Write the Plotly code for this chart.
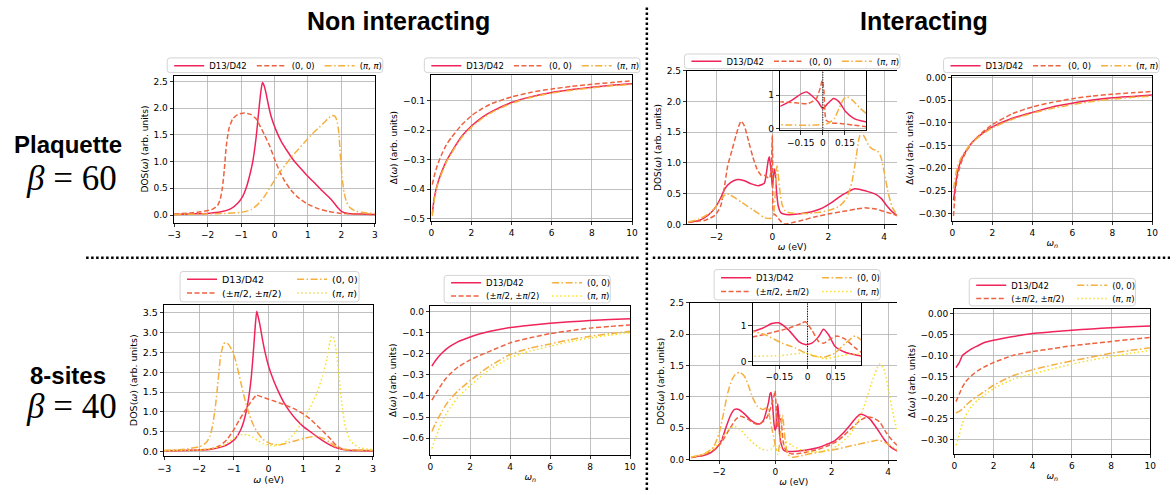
import plotly.graph_objects as go

W, H = 1176, 495
FONT = "DejaVu Sans"

# ---------------- data ----------------
# Panel 1: plaquette, non interacting, DOS
p1_d13_w = [-3.0, -2.5, -2.0, -1.6, -1.3, -1.1, -0.95, -0.85, -0.75, -0.65, -0.55, -0.47, -0.41, -0.36, -0.31, -0.26, -0.18, -0.08, 0.05, 0.2, 0.4, 0.6, 0.8, 1.0, 1.2, 1.4, 1.6, 1.75, 1.9, 2.0, 2.2, 2.5, 3.0]
p1_d13 = [0.01, 0.02, 0.03, 0.06, 0.12, 0.22, 0.35, 0.5, 0.72, 1.0, 1.45, 1.95, 2.3, 2.48, 2.42, 2.3, 2.05, 1.8, 1.58, 1.38, 1.18, 1.0, 0.86, 0.72, 0.6, 0.47, 0.35, 0.25, 0.13, 0.07, 0.03, 0.02, 0.01]
p1_00_w = [-3.0, -2.5, -2.1, -1.85, -1.7, -1.62, -1.56, -1.5, -1.44, -1.36, -1.25, -1.1, -0.9, -0.7, -0.55, -0.42, -0.3, -0.15, 0.0, 0.15, 0.3, 0.5, 0.7, 1.0, 1.3, 1.6, 2.0, 2.5, 3.0]
p1_00 = [0.02, 0.04, 0.07, 0.11, 0.18, 0.3, 0.5, 0.85, 1.3, 1.62, 1.8, 1.88, 1.91, 1.88, 1.8, 1.65, 1.5, 1.3, 1.05, 0.82, 0.64, 0.46, 0.33, 0.2, 0.12, 0.07, 0.03, 0.02, 0.01]
p1_pp_w = [-3.0, -2.0, -1.5, -1.0, -0.7, -0.5, -0.3, -0.1, 0.1, 0.3, 0.5, 0.7, 0.9, 1.1, 1.3, 1.5, 1.62, 1.72, 1.8, 1.86, 1.92, 1.97, 2.02, 2.08, 2.15, 2.25, 2.4, 2.6, 3.0]
p1_pp = [0.01, 0.02, 0.03, 0.05, 0.1, 0.2, 0.35, 0.55, 0.75, 0.92, 1.08, 1.22, 1.36, 1.5, 1.62, 1.74, 1.82, 1.86, 1.85, 1.78, 1.55, 1.1, 0.7, 0.42, 0.25, 0.14, 0.08, 0.05, 0.03]

# Panel 2: plaquette, non interacting, hybridisation
p2_wn = [0.05, 0.15, 0.3, 0.5, 0.75, 1.0, 1.5, 2.0, 2.5, 3.0, 4.0, 5.0, 6.0, 7.0, 8.0, 9.0, 10.0]
p2_d13 = [-0.485, -0.43, -0.385, -0.345, -0.305, -0.275, -0.222, -0.186, -0.158, -0.137, -0.106, -0.086, -0.072, -0.062, -0.054, -0.047, -0.042]
p2_00 = [-0.385, -0.355, -0.32, -0.285, -0.25, -0.225, -0.183, -0.151, -0.128, -0.11, -0.087, -0.071, -0.06, -0.051, -0.044, -0.038, -0.032]
p2_pp = [-0.492, -0.437, -0.39, -0.35, -0.309, -0.279, -0.226, -0.19, -0.162, -0.14, -0.109, -0.088, -0.074, -0.064, -0.056, -0.049, -0.044]

# Panel 3: plaquette, interacting, DOS (also shown in the inset)
p3_d13_w = [-3.0, -2.6, -2.3, -2.05, -1.85, -1.7, -1.5, -1.25, -1.0, -0.75, -0.5, -0.29, -0.21, -0.145, -0.11, -0.078, -0.033, 0.0, 0.033, 0.073, 0.11, 0.156, 0.21, 0.29, 0.4, 0.6, 0.9, 1.2, 1.5, 1.8, 2.1, 2.4, 2.7, 2.95, 3.2, 3.45, 3.7, 3.9, 4.1, 4.3, 4.5]
p3_d13 = [0.03, 0.07, 0.15, 0.27, 0.43, 0.58, 0.68, 0.73, 0.71, 0.66, 0.63, 0.67, 0.85, 1.05, 1.1, 1.0, 0.8, 0.6, 0.75, 0.9, 0.8, 0.5, 0.3, 0.2, 0.17, 0.16, 0.17, 0.19, 0.22, 0.27, 0.35, 0.45, 0.53, 0.58, 0.56, 0.53, 0.49, 0.42, 0.3, 0.2, 0.13]
p3_00_w = [-3.0, -2.4, -2.05, -1.85, -1.72, -1.6, -1.45, -1.3, -1.2, -1.12, -1.0, -0.85, -0.7, -0.55, -0.4, -0.29, -0.19, -0.1, -0.044, -0.016, -0.004, 0.007, 0.022, 0.056, 0.12, 0.21, 0.3, 0.4, 0.55, 0.8, 1.0, 1.5, 2.0, 2.5, 3.0, 3.3, 3.7, 4.0, 4.3, 4.5]
p3_00 = [0.04, 0.07, 0.15, 0.3, 0.6, 0.95, 1.2, 1.45, 1.6, 1.68, 1.6, 1.35, 1.1, 0.9, 0.8, 0.8, 0.77, 0.75, 0.9, 1.25, 1.45, 1.15, 0.25, 0.17, 0.15, 0.1, 0.05, 0.01, 0.01, 0.04, 0.06, 0.12, 0.17, 0.21, 0.25, 0.27, 0.25, 0.21, 0.17, 0.14]
p3_pp_w = [-3.0, -2.6, -2.2, -1.9, -1.75, -1.62, -1.5, -1.3, -1.1, -0.9, -0.7, -0.5, -0.29, -0.056, 0.033, 0.078, 0.11, 0.144, 0.167, 0.2, 0.256, 0.296, 0.35, 0.44, 0.6, 0.9, 1.3, 1.7, 2.1, 2.4, 2.65, 2.85, 3.0, 3.1, 3.18, 3.3, 3.45, 3.6, 3.75, 3.88, 4.0, 4.15, 4.3, 4.5]
p3_pp = [0.04, 0.09, 0.2, 0.36, 0.46, 0.5, 0.48, 0.42, 0.36, 0.3, 0.24, 0.18, 0.11, 0.1, 0.15, 0.3, 0.6, 0.9, 0.95, 0.85, 0.6, 0.45, 0.32, 0.23, 0.19, 0.18, 0.18, 0.2, 0.24, 0.3, 0.42, 0.7, 1.1, 1.4, 1.5, 1.42, 1.28, 1.22, 1.2, 1.1, 0.85, 0.5, 0.27, 0.13]

# Panel 4: plaquette, interacting, hybridisation
p4_wn = [0.05, 0.1, 0.16, 0.25, 0.35, 0.5, 0.75, 1.0, 1.5, 2.0, 3.0, 4.0, 5.0, 6.0, 7.0, 8.0, 9.0, 10.0]
p4_d13 = [-0.27, -0.255, -0.235, -0.21, -0.193, -0.176, -0.157, -0.142, -0.123, -0.109, -0.09, -0.077, -0.065, -0.057, -0.05, -0.045, -0.042, -0.039]
p4_00 = [-0.305, -0.275, -0.245, -0.218, -0.2, -0.18, -0.159, -0.143, -0.121, -0.104, -0.08, -0.065, -0.055, -0.047, -0.041, -0.037, -0.034, -0.031]
p4_pp = [-0.245, -0.232, -0.215, -0.198, -0.185, -0.172, -0.156, -0.143, -0.125, -0.111, -0.092, -0.079, -0.068, -0.06, -0.053, -0.048, -0.044, -0.041]

# Panel 5: 8-sites, non interacting, DOS
p5_d13_w = [-3.0, -2.0, -1.65, -1.3, -1.1, -0.95, -0.8, -0.7, -0.6, -0.5, -0.43, -0.38, -0.34, -0.3, -0.25, -0.18, -0.1, 0.0, 0.15, 0.3, 0.45, 0.6, 0.8, 1.0, 1.2, 1.4, 1.6, 1.8, 2.0, 2.3, 3.0]
p5_d13 = [0.02, 0.04, 0.06, 0.13, 0.22, 0.33, 0.55, 0.8, 1.2, 1.85, 2.6, 3.2, 3.54, 3.4, 3.2, 2.85, 2.5, 2.15, 1.78, 1.48, 1.22, 1.02, 0.8, 0.63, 0.5, 0.37, 0.25, 0.15, 0.08, 0.03, 0.02]
p5_pm_w = [-3.0, -2.0, -1.65, -1.4, -1.2, -1.0, -0.85, -0.7, -0.55, -0.45, -0.35, -0.2, 0.0, 0.2, 0.4, 0.6, 0.8, 1.0, 1.2, 1.4, 1.6, 1.8, 1.95, 2.1, 2.3, 2.6, 3.0]
p5_pm = [0.02, 0.04, 0.07, 0.15, 0.3, 0.55, 0.78, 1.0, 1.2, 1.32, 1.42, 1.38, 1.32, 1.26, 1.2, 1.13, 1.05, 0.95, 0.82, 0.65, 0.48, 0.3, 0.15, 0.07, 0.04, 0.03, 0.02]
p5_00_w = [-3.0, -2.4, -2.0, -1.8, -1.68, -1.6, -1.52, -1.45, -1.38, -1.3, -1.25, -1.15, -1.05, -0.95, -0.8, -0.65, -0.5, -0.35, -0.15, 0.05, 0.3, 0.55, 0.8, 1.05, 1.3, 1.45, 1.6, 1.75, 1.9, 2.1, 2.4, 3.0]
p5_00 = [0.03, 0.06, 0.12, 0.22, 0.4, 0.7, 1.2, 1.8, 2.4, 2.7, 2.75, 2.7, 2.55, 2.3, 1.75, 1.2, 0.8, 0.52, 0.3, 0.2, 0.17, 0.22, 0.28, 0.34, 0.38, 0.37, 0.32, 0.24, 0.14, 0.07, 0.04, 0.03]
p5_pp_w = [-3.0, -2.0, -1.6, -1.3, -1.1, -0.9, -0.75, -0.6, -0.45, -0.3, -0.15, 0.0, 0.2, 0.4, 0.6, 0.8, 1.0, 1.2, 1.4, 1.55, 1.68, 1.76, 1.82, 1.88, 1.95, 2.02, 2.1, 2.2, 2.35, 2.6, 3.0]
p5_pp = [0.02, 0.04, 0.08, 0.16, 0.27, 0.39, 0.43, 0.42, 0.36, 0.27, 0.2, 0.16, 0.15, 0.2, 0.32, 0.52, 0.8, 1.12, 1.5, 1.9, 2.35, 2.75, 2.92, 2.85, 2.5, 1.95, 1.25, 0.65, 0.28, 0.1, 0.05]

# Panel 6: 8-sites, non interacting, hybridisation
p6_wn = [0.08, 0.24, 0.4, 0.6, 0.8, 1.0, 1.4, 2.0, 2.5, 3.0, 4.0, 5.0, 6.0, 7.0, 8.0, 9.0, 10.0]
p6_d13 = [-0.258, -0.235, -0.215, -0.195, -0.178, -0.164, -0.142, -0.12, -0.105, -0.093, -0.075, -0.064, -0.055, -0.048, -0.042, -0.037, -0.033]
p6_pm = [-0.42, -0.395, -0.37, -0.34, -0.315, -0.295, -0.262, -0.229, -0.207, -0.187, -0.148, -0.124, -0.104, -0.09, -0.078, -0.07, -0.063]
p6_00 = [-0.569, -0.535, -0.505, -0.47, -0.44, -0.415, -0.375, -0.327, -0.29, -0.257, -0.203, -0.173, -0.153, -0.133, -0.117, -0.104, -0.093]
p6_pp = [-0.65, -0.605, -0.565, -0.52, -0.485, -0.455, -0.405, -0.351, -0.31, -0.273, -0.218, -0.187, -0.164, -0.142, -0.125, -0.111, -0.1]

# Panel 7: 8-sites, interacting, DOS (also shown in the inset)
p7_d13_w = [-3.0, -2.6, -2.3, -2.1, -1.9, -1.75, -1.6, -1.45, -1.3, -1.1, -0.9, -0.7, -0.55, -0.42, -0.29, -0.24, -0.19, -0.154, -0.1, -0.048, -0.012, 0.023, 0.059, 0.085, 0.112, 0.147, 0.2, 0.293, 0.4, 0.6, 0.9, 1.2, 1.5, 1.8, 2.1, 2.4, 2.65, 2.85, 3.0, 3.15, 3.35, 3.6, 3.85, 4.1, 4.4]
p7_d13 = [0.04, 0.06, 0.11, 0.18, 0.32, 0.52, 0.7, 0.8, 0.8, 0.73, 0.64, 0.58, 0.57, 0.63, 0.83, 0.92, 1.05, 1.07, 0.87, 0.56, 0.47, 0.51, 0.69, 0.89, 0.74, 0.42, 0.26, 0.15, 0.13, 0.13, 0.14, 0.16, 0.19, 0.24, 0.3, 0.42, 0.55, 0.66, 0.72, 0.71, 0.65, 0.5, 0.33, 0.2, 0.12]
p7_pm_w = [-3.0, -2.5, -2.1, -1.88, -1.64, -1.41, -1.25, -1.0, -0.8, -0.6, -0.45, -0.291, -0.19, -0.1, -0.035, -0.012, 0.023, 0.059, 0.085, 0.13, 0.156, 0.2, 0.254, 0.293, 0.4, 0.6, 0.9, 1.2, 1.5, 1.8, 2.1, 2.4, 2.7, 3.0, 3.25, 3.45, 3.7, 3.95, 4.2, 4.4]
p7_pm = [0.03, 0.08, 0.18, 0.3, 0.48, 0.64, 0.69, 0.65, 0.59, 0.56, 0.6, 0.68, 0.8, 0.92, 1.05, 1.1, 0.87, 0.56, 0.51, 0.65, 0.71, 0.62, 0.38, 0.24, 0.12, 0.09, 0.1, 0.13, 0.16, 0.21, 0.27, 0.37, 0.5, 0.62, 0.68, 0.67, 0.6, 0.42, 0.28, 0.2]
p7_00_w = [-3.0, -2.5, -2.2, -2.0, -1.85, -1.7, -1.55, -1.4, -1.25, -1.1, -0.95, -0.8, -0.64, -0.45, -0.291, -0.225, -0.136, -0.066, -0.012, 0.041, 0.094, 0.147, 0.2, 0.254, 0.293, 0.35, 0.45, 0.6, 0.9, 1.3, 1.7, 2.1, 2.5, 2.9, 3.3, 3.65, 3.9, 4.15, 4.4]
p7_00 = [0.04, 0.1, 0.2, 0.42, 0.72, 1.05, 1.27, 1.37, 1.39, 1.33, 1.17, 0.98, 0.85, 0.8, 0.83, 0.74, 0.51, 0.38, 0.24, 0.15, 0.13, 0.24, 0.5, 0.71, 0.56, 0.3, 0.08, 0.04, 0.06, 0.1, 0.13, 0.16, 0.2, 0.24, 0.28, 0.31, 0.27, 0.2, 0.13]
p7_pp_w = [-3.0, -2.5, -2.1, -1.8, -1.6, -1.45, -1.25, -1.0, -0.75, -0.5, -0.291, -0.136, -0.012, 0.059, 0.094, 0.147, 0.218, 0.293, 0.4, 0.6, 1.0, 1.4, 1.8, 2.2, 2.6, 2.9, 3.15, 3.4, 3.6, 3.72, 3.85, 4.0, 4.15, 4.3, 4.4]
p7_pp = [0.04, 0.1, 0.22, 0.4, 0.5, 0.53, 0.48, 0.36, 0.25, 0.17, 0.15, 0.17, 0.24, 0.13, 0.08, 0.13, 0.2, 0.22, 0.28, 0.22, 0.14, 0.12, 0.15, 0.22, 0.38, 0.58, 0.85, 1.2, 1.45, 1.53, 1.45, 1.15, 0.8, 0.5, 0.38]

# Panel 8: 8-sites, interacting, hybridisation
p8_wn = [0.08, 0.24, 0.4, 0.55, 0.7, 0.9, 1.2, 1.5, 2.0, 3.0, 4.0, 5.0, 6.0, 7.0, 8.0, 9.0, 10.0]
p8_d13 = [-0.128, -0.117, -0.1, -0.094, -0.089, -0.083, -0.076, -0.069, -0.063, -0.054, -0.047, -0.043, -0.039, -0.036, -0.033, -0.031, -0.029]
p8_pm = [-0.209, -0.192, -0.175, -0.163, -0.155, -0.146, -0.135, -0.127, -0.116, -0.099, -0.09, -0.083, -0.076, -0.071, -0.066, -0.061, -0.056]
p8_00 = [-0.236, -0.232, -0.227, -0.22, -0.213, -0.205, -0.195, -0.186, -0.17, -0.147, -0.133, -0.122, -0.112, -0.103, -0.094, -0.087, -0.081]
p8_pp = [-0.313, -0.29, -0.262, -0.245, -0.232, -0.219, -0.205, -0.195, -0.178, -0.156, -0.143, -0.131, -0.12, -0.11, -0.102, -0.094, -0.087]

# labels
name_d13 = "D13/D42"
name_00 = "(0, 0)"
name_pp = "(<i>π</i>, <i>π</i>)"
name_pm = "(±<i>π</i>/2, ±<i>π</i>/2)"
col_titles = ["<b>Non interacting</b>", "<b>Interacting</b>"]
row_titles = ["<b>Plaquette</b>", "<b>8-sites</b>"]
row_betas = ["<i>β</i> = 60", "<i>β</i> = 40"]
inset_ticks = [-0.15, 0.0, 0.15]
inset_ticktext = ["−0.15", "0", "0.15"]

# ---------------- styles ----------------
RED, ORG, AMB, YEL = "#f0245a", "#ee6240", "#f5b040", "#f8df2a"
SOLID, DASH, DASHDOT, DOT = "solid", "5px,2.5px", "7px,2.5px,1.5px,2.5px", "1.5px,2.5px"

fig = go.Figure()


def xid(n):
    return "x" if n == 1 else f"x{n}"


def yid(n):
    return "y" if n == 1 else f"y{n}"


def lid(n):
    return "legend" if n == 1 else f"legend{n}"


def add(n, x, y, name, color, dash, leg=None, spline=True):
    fig.add_trace(go.Scatter(
        x=x, y=y, xaxis=xid(n), yaxis=yid(n), mode="lines", name=name,
        line=dict(color=color, width=1.5, dash=dash,
                  shape="spline" if spline else "linear", smoothing=0.55),
        showlegend=leg is not None, legend=lid(leg) if leg else "legend",
        hoverinfo="skip"))


# panel 1
add(1, p1_d13_w, p1_d13, name_d13, RED, SOLID, 1)
add(1, p1_00_w, p1_00, name_00, ORG, DASH, 1)
add(1, p1_pp_w, p1_pp, name_pp, AMB, DASHDOT, 1)
# panel 2
add(2, p2_wn, p2_d13, name_d13, RED, SOLID, 2)
add(2, p2_wn, p2_00, name_00, ORG, DASH, 2)
add(2, p2_wn, p2_pp, name_pp, AMB, DASHDOT, 2)
# panel 3 + inset (axis 9)
add(3, p3_d13_w, p3_d13, name_d13, RED, SOLID, 3)
add(3, p3_00_w, p3_00, name_00, ORG, DASH, 3)
add(3, p3_pp_w, p3_pp, name_pp, AMB, DASHDOT, 3)
add(9, p3_d13_w, p3_d13, name_d13, RED, SOLID)
add(9, p3_00_w, p3_00, name_00, ORG, DASH)
add(9, p3_pp_w, p3_pp, name_pp, AMB, DASHDOT)
# panel 4
add(4, p4_wn, p4_d13, name_d13, RED, SOLID, 4)
add(4, p4_wn, p4_00, name_00, ORG, DASH, 4)
add(4, p4_wn, p4_pp, name_pp, AMB, DASHDOT, 4)
# panel 5 (legends 5 = row 1, 6 = row 2)
add(5, p5_d13_w, p5_d13, name_d13, RED, SOLID, 5)
add(5, p5_pm_w, p5_pm, name_pm, ORG, DASH, 6)
add(5, p5_00_w, p5_00, name_00, AMB, DASHDOT, 5)
add(5, p5_pp_w, p5_pp, name_pp, YEL, DOT, 6)
# panel 6 (legends 7, 8)
add(6, p6_wn, p6_d13, name_d13, RED, SOLID, 7)
add(6, p6_wn, p6_pm, name_pm, ORG, DASH, 8)
add(6, p6_wn, p6_00, name_00, AMB, DASHDOT, 7)
add(6, p6_wn, p6_pp, name_pp, YEL, DOT, 8)
# panel 7 + inset (axis 10) (legends 9, 10)
add(7, p7_d13_w, p7_d13, name_d13, RED, SOLID, 9)
add(7, p7_pm_w, p7_pm, name_pm, ORG, DASH, 10)
add(7, p7_00_w, p7_00, name_00, AMB, DASHDOT, 9)
add(7, p7_pp_w, p7_pp, name_pp, YEL, DOT, 10)
add(10, p7_d13_w, p7_d13, name_d13, RED, SOLID)
add(10, p7_pm_w, p7_pm, name_pm, ORG, DASH)
add(10, p7_00_w, p7_00, name_00, AMB, DASHDOT)
add(10, p7_pp_w, p7_pp, name_pp, YEL, DOT)
# panel 8 (legends 11, 12)
add(8, p8_wn, p8_d13, name_d13, RED, SOLID, 11)
add(8, p8_wn, p8_pm, name_pm, ORG, DASH, 12)
add(8, p8_wn, p8_00, name_00, AMB, DASHDOT, 11)
add(8, p8_wn, p8_pp, name_pp, YEL, DOT, 12)

# ---------------- axes ----------------
W_LBL = "<i>ω</i> (eV)"
WN_LBL = "<i>ω<sub>n</sub></i>"
DOS_LBL = "DOS(<i>ω</i>) (arb. units)"
DEL_LBL = "Δ(<i>ω</i>) (arb. units)"

# n: (x px range, y px range (top, bottom), xrange, yrange, xdtick, ydtick, yfmt, xtitle, ytitle, font size, right spine)
panels = {
    1: ((169, 372), (72, 222), [-3, 3], [-0.14, 2.61], 1, 0.5, ".1f", None, DOS_LBL, 9, True),
    2: ((429, 632), (71, 220), [0, 10], [-0.507, -0.011], 2, 0.1, ".1f", None, DEL_LBL, 9, True),
    3: ((688, 900), (67, 224), [-3.04, 4.46], [0, 2.5], 2, 0.5, ".1f", W_LBL, DOS_LBL, 9, False),
    4: ((956, 1158), (72, 220), [0, 10], [-0.315, 0.004], 2, 0.05, ".2f", WN_LBL, DEL_LBL, 9, True),
    5: ((159, 370), (306, 460), [-3, 3], [-0.105, 3.7], 1, 0.5, ".1f", W_LBL, DOS_LBL, 9.5, True),
    6: ((428, 630), (307, 459), [0, 10], [-0.679, 0.028], 2, 0.1, ".1f", WN_LBL, DEL_LBL, 9, True),
    7: ((691, 900), (304, 464), [-3.02, 4.32], [0, 2.5], 2, 0.5, ".1f", W_LBL, DOS_LBL, 9, False),
    8: ((958, 1156), (310, 458), [0, 10], [-0.333, 0.012], 2, 0.05, ".2f", WN_LBL, DEL_LBL, 9, True),
}

axis_base = dict(showline=True, linecolor="black", linewidth=1, ticks="outside",
                 ticklen=3.5, tickwidth=0.8, tickcolor="black", showgrid=True,
                 gridcolor="#b0b0b0", gridwidth=0.8, zeroline=False)

layout = dict(width=W, height=H, margin=dict(l=0, r=0, t=0, b=0), autosize=False,
              paper_bgcolor="white", plot_bgcolor="white", hovermode=False,
              font=dict(family=FONT, size=9, color="black"))

for n, (xp, yp, xr, yr, xdt, ydt, yfmt, xt, yt, fs, rspine) in panels.items():
    xa = dict(axis_base, domain=[xp[0] / W, xp[1] / W], range=xr, dtick=xdt, tick0=0,
              anchor=yid(n), mirror=True, tickfont=dict(family=FONT, size=fs, color="black"))
    ya = dict(axis_base, domain=[1 - yp[1] / H, 1 - yp[0] / H], range=yr, dtick=ydt, tick0=0,
              tickformat=yfmt, anchor=xid(n), mirror=rspine,
              tickfont=dict(family=FONT, size=fs, color="black"),
              title=dict(text=yt, font=dict(family=FONT, size=fs), standoff=3))
    if xt:
        xa["title"] = dict(text=xt, font=dict(family=FONT, size=fs), standoff=2)
    layout["xaxis" if n == 1 else f"xaxis{n}"] = xa
    layout["yaxis" if n == 1 else f"yaxis{n}"] = ya

insets = {
    9: ((782, 869), (67, 128), [-0.289, 0.296], [-0.06, 1.74]),
    10: ((754, 864), (304, 367), [-0.292, 0.287], [-0.08, 1.62]),
}
for n, (xp, yp, xr, yr) in insets.items():
    layout[f"xaxis{n}"] = dict(axis_base, domain=[xp[0] / W, xp[1] / W], range=xr,
                               tickvals=inset_ticks, ticktext=inset_ticktext, anchor=yid(n), mirror=True,
                               tickfont=dict(family=FONT, size=9, color="black"))
    layout[f"yaxis{n}"] = dict(axis_base, domain=[1 - yp[1] / H, 1 - yp[0] / H], range=yr,
                               tickvals=[0, 1], anchor=xid(n), mirror=True,
                               tickfont=dict(family=FONT, size=9, color="black"))

# ---------------- legends ----------------


def legend_cfg(left_px, cy_px, fs=8.5, ew=None):
    d = dict(orientation="h", x=left_px / W, xanchor="left", y=1 - cy_px / H, yanchor="middle",
             bgcolor="rgba(0,0,0,0)", borderwidth=0, itemwidth=30, tracegroupgap=0,
             font=dict(family=FONT, size=fs, color="black"), itemclick=False, itemdoubleclick=False)
    if ew:
        d.update(entrywidth=ew, entrywidthmode="pixels")
    return d


# (legend ids, left px, row centres, font, entrywidth, box)
legend_specs = [
    ([1], 164, [62], 8.5, None, (162, 54, 380, 69)),
    ([2], 424, [62], 8.5, None, (422, 54, 640, 69)),
    ([3], 687, [57.5], 8.5, None, (685, 50, 903, 65)),
    ([4], 949, [62], 8.5, None, (947, 54, 1165, 69)),
    ([5, 6], 177, [280, 294], 9.5, 65, (175, 272, 356, 303)),
    ([7, 8], 444, [283.5, 297], 8.5, 56, (442, 276, 610, 304)),
    ([9, 10], 717, [278.5, 292.5], 8.5, 56, (715, 270, 883, 301)),
    ([11, 12], 975, [286, 299.5], 8.5, 56, (973, 279, 1141, 307)),
]

shapes = []


def px(x):
    return x / W


def py(y):
    return 1 - y / H


def rbox(x0, y0, x1, y1, r=3):
    p = (f"M {px(x0 + r)},{py(y0)} L {px(x1 - r)},{py(y0)} Q {px(x1)},{py(y0)} {px(x1)},{py(y0 + r)} "
         f"L {px(x1)},{py(y1 - r)} Q {px(x1)},{py(y1)} {px(x1 - r)},{py(y1)} "
         f"L {px(x0 + r)},{py(y1)} Q {px(x0)},{py(y1)} {px(x0)},{py(y1 - r)} "
         f"L {px(x0)},{py(y0 + r)} Q {px(x0)},{py(y0)} {px(x0 + r)},{py(y0)} Z")
    return dict(type="path", xref="paper", yref="paper", path=p, layer="above",
                line=dict(color="#d4d4d4", width=1), fillcolor="rgba(255,255,255,0.85)")


for ids, left, rows, fs, ew, box in legend_specs:
    shapes.append(rbox(*box))
    for lg, cy in zip(ids, rows):
        layout[lid(lg)] = legend_cfg(left, cy, fs, ew)

# inset white backgrounds (cover the main grid) and zero markers
for n in (9, 10):
    xr = layout[f"xaxis{n}"]["range"]
    yr = layout[f"yaxis{n}"]["range"]
    shapes.append(dict(type="rect", xref=xid(n), yref=yid(n), x0=xr[0], x1=xr[1], y0=yr[0], y1=yr[1],
                       layer="below", line=dict(width=0), fillcolor="white"))
    shapes.append(dict(type="line", xref=xid(n), yref=yid(n), x0=0, x1=0, y0=yr[0], y1=yr[1],
                       layer="above", line=dict(color="black", width=1, dash="1px,1.5px")))

# separators
shapes.append(dict(type="line", xref="paper", yref="paper", x0=px(647), x1=px(647), y0=0, y1=1,
                   line=dict(color="black", width=2.5, dash="2.5px,2.5px"), layer="above"))
shapes.append(dict(type="line", xref="paper", yref="paper", x0=px(80), x1=px(641), y0=py(258), y1=py(258),
                   line=dict(color="black", width=2.5, dash="2.5px,2.5px"), layer="above"))
shapes.append(dict(type="line", xref="paper", yref="paper", x0=px(653), x1=1, y0=py(258), y1=py(258),
                   line=dict(color="black", width=2.5, dash="2.5px,2.5px"), layer="above"))
layout["shapes"] = shapes

# ---------------- annotations ----------------
TITLE_FONT = "Liberation Sans Narrow, Liberation Sans, Arial Narrow, sans-serif"
ann = []
for txt, cx in zip(col_titles, [396, 927]):
    ann.append(dict(text=txt, x=px(cx), y=py(16), xref="paper", yref="paper", showarrow=False,
                    xanchor="center", yanchor="middle",
                    font=dict(family=TITLE_FONT, size=25, color="black")))
for txt, cy in zip(row_titles, [142, 378]):
    ann.append(dict(text=txt, x=px(62), y=py(cy), xref="paper", yref="paper", showarrow=False,
                    xanchor="center", yanchor="middle",
                    font=dict(family="Liberation Sans, Arial, sans-serif", size=24, color="black")))
for txt, cy in zip(row_betas, [177, 410]):
    ann.append(dict(text=txt, x=px(65), y=py(cy), xref="paper", yref="paper", showarrow=False,
                    xanchor="center", yanchor="middle",
                    font=dict(family="Liberation Serif, DejaVu Serif, serif", size=35, color="black")))
layout["annotations"] = ann

fig.update_layout(**layout)
fig.write_html("out.html", config={"displayModeBar": False, "staticPlot": True},
               post_script="document.body.style.margin='0px';document.body.style.overflow='hidden';")
